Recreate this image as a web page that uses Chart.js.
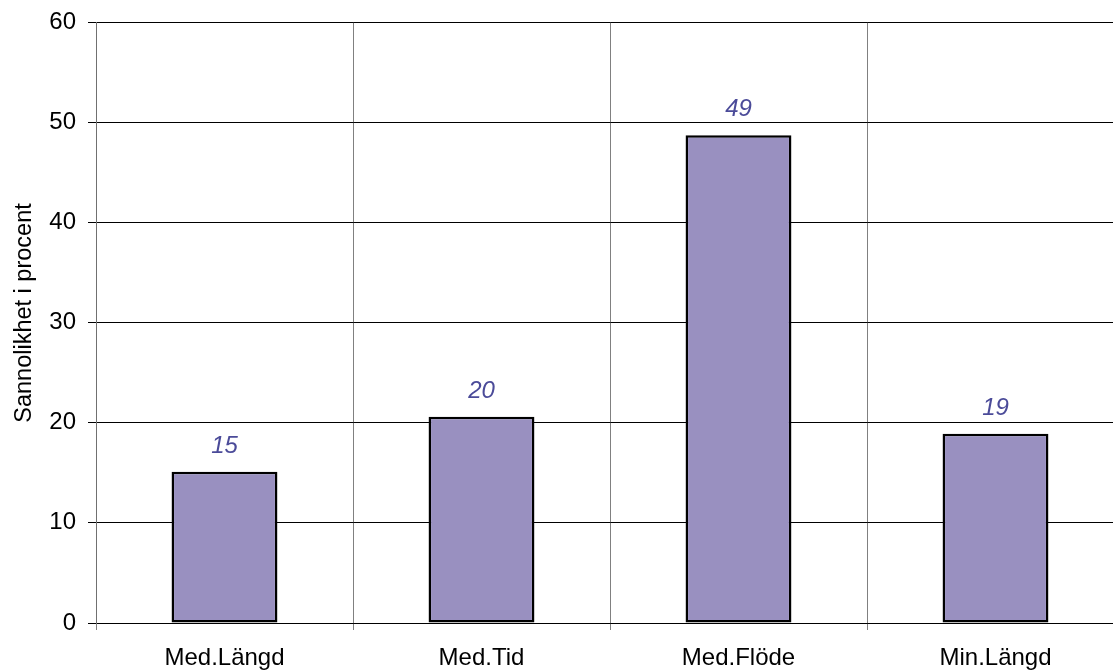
<!DOCTYPE html>
<html>
<head>
<meta charset="utf-8">
<script src="https://cdn.jsdelivr.net/npm/chart.js@4"></script>
<style>
  html, body { margin: 0; padding: 0; background: #fff; overflow: hidden; }
  #wrap { width: 1124px; height: 670px; }
</style>
</head>
<body>
<div id="wrap"><canvas id="chart"></canvas></div>
<script>
const categories = ["Med.Längd", "Med.Tid", "Med.Flöde", "Min.Längd"];
const values = [15.1, 20.6, 48.7, 18.9];
const valueLabels = ["15", "20", "49", "19"];
const yTicks = [0, 10, 20, 30, 40, 50, 60];
const yTitle = "Sannolikhet i procent";

const FONT = "Arial, 'Liberation Sans', sans-serif";

// value labels above each bar + rotated y title
const extras = {
  id: "extras",
  afterDatasetsDraw(chart) {
    const ctx = chart.ctx;
    const meta = chart.getDatasetMeta(0);
    ctx.save();
    ctx.font = "italic 24px " + FONT;
    ctx.fillStyle = "#4b4b99";
    ctx.textAlign = "center";
    ctx.textBaseline = "alphabetic";
    meta.data.forEach((bar, i) => {
      ctx.fillText(valueLabels[i], bar.x, bar.y - 19);
    });
    ctx.restore();

    ctx.save();
    ctx.font = "23.5px " + FONT;
    ctx.fillStyle = "#000";
    ctx.textAlign = "center";
    ctx.textBaseline = "middle";
    ctx.translate(25, 313);
    ctx.rotate(-Math.PI / 2);
    ctx.fillText(yTitle, 0, 0);
    ctx.restore();
  }
};

new Chart(document.getElementById("chart"), {
  type: "bar",
  data: {
    labels: categories,
    datasets: [{
      data: values,
      backgroundColor: "#9990c0",
      borderColor: "#000",
      borderWidth: 2.5,
      borderSkipped: false,
      barPercentage: 0.412,
      categoryPercentage: 1
    }]
  },
  options: {
    responsive: true,
    maintainAspectRatio: false,
    animation: false,
    layout: { padding: { top: 22, right: 0, left: 0, bottom: 0 } },
    plugins: {
      legend: { display: false },
      tooltip: { enabled: false }
    },
    scales: {
      x: {
        grid: { color: "#808080", lineWidth: 1, tickLength: 7, offset: true },
        border: { color: "#000", width: 1 },
        ticks: { color: "#000", font: { family: FONT, size: 24 }, padding: 14, maxRotation: 0 },
        afterFit: s => { s.height = 47; s.paddingLeft = 0; s.paddingRight = 0; }
      },
      y: {
        min: 0,
        max: 60,
        afterBuildTicks: s => { s.ticks = yTicks.map(v => ({ value: v })); },
        grid: { color: "#000", lineWidth: 1, tickLength: 8 },
        border: { color: "#707070", width: 1 },
        ticks: { color: "#000", font: { family: FONT, size: 24 }, padding: 12 },
        afterFit: s => { s.width = 96; s.paddingTop = 0; s.paddingBottom = 0; }
      }
    }
  },
  plugins: [extras]
});
</script>
</body>
</html>
